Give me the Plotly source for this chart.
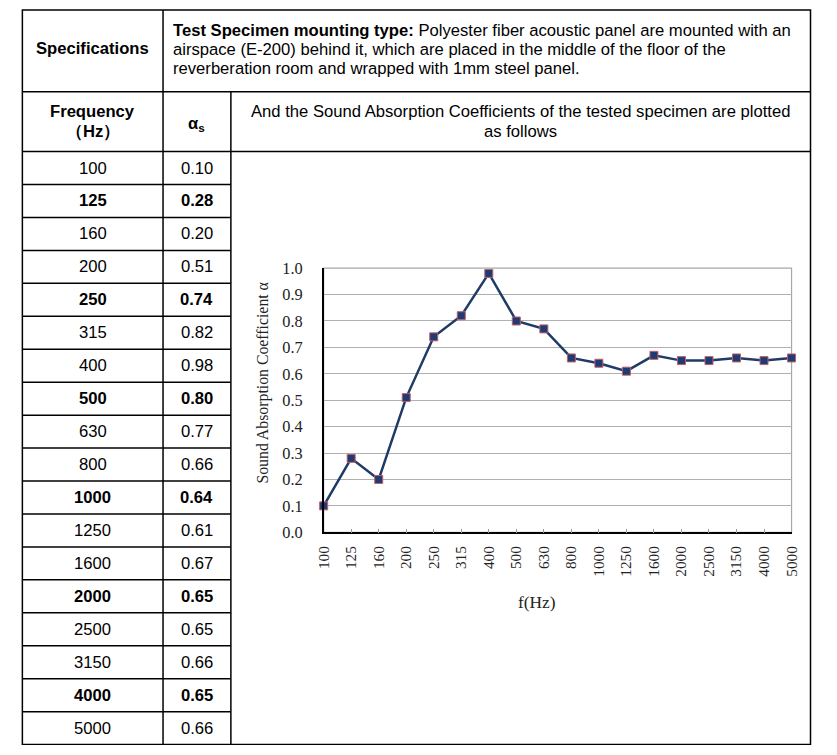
import plotly.graph_objects as go

freqs = ["100", "125", "160", "200", "250", "315", "400", "500", "630", "800",
         "1000", "1250", "1600", "2000", "2500", "3150", "4000", "5000"]
alpha = [0.10, 0.28, 0.20, 0.51, 0.74, 0.82, 0.98, 0.80, 0.77, 0.66,
         0.64, 0.61, 0.67, 0.65, 0.65, 0.66, 0.65, 0.66]
bold_freqs = ["125", "250", "500", "1000", "2000", "4000"]
y_ticks = [0.0, 0.1, 0.2, 0.3, 0.4, 0.5, 0.6, 0.7, 0.8, 0.9, 1.0]

W, H = 837, 755
SANS = "Liberation Sans, Arial, sans-serif"
SERIF = "Liberation Serif, DejaVu Serif, serif"

# compensation for how the page is photographed (measured offset / scale)
OX, OY, SX, SY = 7.6, 8.0, 0.982, 0.978

def dx(p):
    return (p - OX) / (SX * W)

def dy(p):
    return 1 - (p - OY) / (SY * H)

def fs(v):
    return v / ((SX + SY) / 2)

# table geometry (reference pixels)
L, R, T, B = 21, 811, 5, 746
C1, C2 = 162, 230
R1, R2 = 91, 151
rh = (B - R2) / len(freqs)
T_draw = max(T, OY + 1.0)

# chart area (reference pixels)
pl, pr, pt, pb = 323, 792, 268, 533

fig = go.Figure()
fig.add_trace(go.Scatter(
    x=freqs, y=alpha, mode="lines+markers",
    line=dict(color="#1f3b66", width=2.5),
    marker=dict(symbol="square", size=8, color="#1f3b73",
                line=dict(color="#c0606a", width=1)),
    xaxis="x", yaxis="y", showlegend=False, cliponaxis=False))

shapes = []
ln = dict(color="black", width=1.5)
shapes.append(dict(type="rect", xref="x2", yref="y2", x0=L, x1=R, y0=T_draw, y1=B, line=ln))
for yy in (R1, R2):
    shapes.append(dict(type="line", xref="x2", yref="y2", x0=L, x1=R, y0=yy, y1=yy, line=ln))
shapes.append(dict(type="line", xref="x2", yref="y2", x0=C1, x1=C1, y0=T_draw, y1=B, line=ln))
shapes.append(dict(type="line", xref="x2", yref="y2", x0=C2, x1=C2, y0=R1, y1=B, line=ln))
for k in range(1, len(freqs)):
    yy = R2 + rh * k
    shapes.append(dict(type="line", xref="x2", yref="y2", x0=L, x1=C2, y0=yy, y1=yy, line=ln))
# chart frame (gray top/right)
shapes.append(dict(type="rect", xref="x domain", yref="y domain", x0=0, x1=1, y0=0, y1=1,
                   line=dict(color="#a8a8a8", width=1.2), layer="below"))

ann = []
def txt(x, y, s, size=16.3, xanchor="center", align="center", font=SANS, angle=0, color="black"):
    ann.append(dict(x=x, y=y, xref="x2", yref="y2", text=s, showarrow=False,
                    xanchor=xanchor, yanchor="middle", align=align, textangle=angle,
                    font=dict(family=font, size=fs(size), color=color)))

txt((L + C1) / 2, 48, "<b>Specifications</b>")
txt(170, 30, "<b>Test Specimen mounting type:</b> Polyester fiber acoustic panel are mounted with an",
    xanchor="left", align="left")
txt(170, 49, "airspace (E-200) behind it, which are placed in the middle of the floor of the",
    xanchor="left", align="left")
txt(170, 68, "reverberation room and wrapped with 1mm steel panel.", xanchor="left", align="left")
txt((L + C1) / 2, 111, "<b>Frequency</b>")
txt((L + C1) / 2, 131, "<b>（Hz）</b>")
txt((C1 + C2) / 2, 123, "<b>α<sub>s</sub></b>")
txt((C2 + R) / 2, 111, "And the Sound Absorption Coefficients of the tested specimen are plotted")
txt((C2 + R) / 2, 131, "as follows")

for i, (f, a) in enumerate(zip(freqs, alpha)):
    yc = R2 + rh * (i + 0.5)
    ft = f"{f}"
    vt = f"{a:.2f}"
    if f in bold_freqs:
        ft, vt = f"<b>{ft}</b>", f"<b>{vt}</b>"
    txt((L + C1) / 2, yc, ft)
    txt((C1 + C2) / 2, yc, vt)

txt(262, 383, "Sound Absorption Coefficient α", size=15.5, font=SERIF, angle=-90, color="#222")
txt(537, 603, "f(Hz)", size=17, font=SERIF, color="#222")

fig.update_layout(
    width=W, height=H, margin=dict(l=0, r=0, t=0, b=0, pad=0),
    paper_bgcolor="white", plot_bgcolor="rgba(0,0,0,0)",
    shapes=shapes, annotations=ann,
    xaxis=dict(domain=[dx(pl), dx(pr)], anchor="y", type="category",
               range=[0, len(freqs) - 1], tickangle=-90,
               showline=True, linecolor="black", linewidth=1.5,
               ticks="inside", ticklen=4, tickcolor="#999", showgrid=False,
               ticklabelstandoff=6,
               tickfont=dict(family=SERIF, size=fs(15), color="#222")),
    yaxis=dict(domain=[dy(pb), dy(pt)], anchor="x", range=[0, 1.0],
               tickvals=y_ticks, ticktext=[f"{v:.1f}" for v in y_ticks],
               showline=True, linecolor="black", linewidth=1.5,
               showgrid=True, gridcolor="#b0b0b0", gridwidth=1, zeroline=False,
               ticks="", ticklabelstandoff=16,
               tickfont=dict(family=SERIF, size=fs(16), color="#222")),
    xaxis2=dict(domain=[0, 1], range=[OX, OX + SX * W], visible=False, anchor="y2", fixedrange=True),
    yaxis2=dict(domain=[0, 1], range=[OY + SY * H, OY], visible=False, anchor="x2", fixedrange=True),
)

fig.write_html(
    "out.html",
    config={"displayModeBar": False},
    post_script=(
        "document.documentElement.style.margin='0';"
        "document.body.style.margin='0';document.body.style.padding='0';"
        "document.body.style.overflow='hidden';"
    ),
)
